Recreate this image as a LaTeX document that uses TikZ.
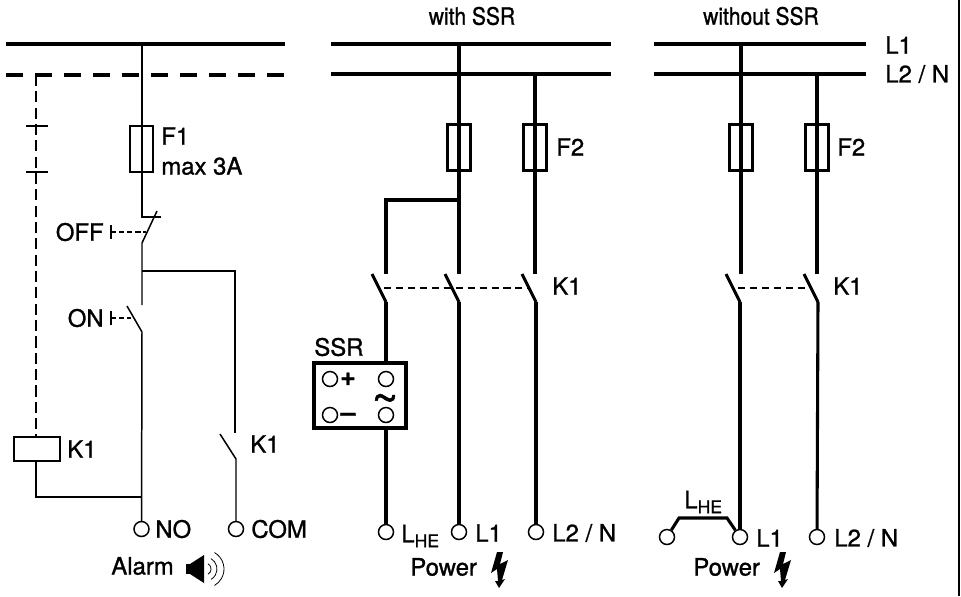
\documentclass[tikz,border=0pt]{standalone}
\usepackage{fontspec}
\setmainfont{TeX Gyre Heros}[FakeBold=1.1]
\newcommand{\lhe}{L\raisebox{-2.8pt}{\fontsize{10}{10}\selectfont HE}}

\begin{document}
\begin{tikzpicture}[x=0.02cm, y=-0.02cm, font=\fontsize{13.6}{15}\selectfont,
    busline/.style={line width=1.75pt},
    busdash/.style={line width=1.8pt, dash pattern=on 9.7pt off 6.8pt},
    wirethin/.style={line width=0.85pt},
    wirethick/.style={line width=1.75pt},
    linkdash/.style={line width=0.85pt, dash pattern=on 6.3pt off 3pt},
    ctrldash/.style={line width=0.8pt, dash pattern=on 4pt off 2.8pt},
    terminal/.style={circle, draw, line width=0.85pt, fill=white, inner sep=0pt, minimum size=0.3cm},
    fusebox/.style={rectangle, draw, inner sep=0pt, minimum width=0.46cm, minimum height=0.93cm},
    label/.style={anchor=west, inner sep=0pt}
]
    % Page size and the rule on the right
    \useasboundingbox (0,0) rectangle (961,596);
    \draw[line width=0.9pt] (959,0) -- (959,596);

    % Titles
    \node[xscale=0.88] (TitleWith) at (472,16) {with SSR};
    \node[xscale=0.88] (TitleWithout) at (761,16) {without SSR};

    % Supply lines
    \coordinate (AlarmTopLeft) at (6,44);
    \coordinate (AlarmTopRight) at (285,44);
    \coordinate (AlarmBotLeft) at (6,75);
    \coordinate (AlarmBotRight) at (285,75);
    \coordinate (WithTopLeft) at (331,44);
    \coordinate (WithTopRight) at (611,44);
    \coordinate (WithBotLeft) at (331,74);
    \coordinate (WithBotRight) at (611,74);
    \coordinate (NoTopLeft) at (654,44);
    \coordinate (NoTopRight) at (866,44);
    \coordinate (NoBotLeft) at (654,74);
    \coordinate (NoBotRight) at (866,74);
    \draw[line width=1.9pt] (AlarmTopLeft) -- (AlarmTopRight);
    \draw[busdash] (AlarmBotLeft) -- (AlarmBotRight);
    \draw[busline] (WithTopLeft) -- (WithTopRight);
    \draw[busline] (WithBotLeft) -- (WithBotRight);
    \draw[busline] (NoTopLeft) -- (NoTopRight);
    \draw[busline] (NoBotLeft) -- (NoBotRight);
    \node[label] (LabelL1) at (885,45) {L1};
    \node[label] (LabelL2) at (885,74) {L2 / N};

    % Alarm circuit
    \coordinate (AlarmFeed) at (142,44);
    \coordinate (OffStub) at (142,217);
    \coordinate (OffStubEnd) at (161,217);
    \coordinate (OffBladeTop) at (157,211);
    \coordinate (OffBladeEnd) at (142,243);
    \coordinate (ComBranch) at (142,271);
    \coordinate (ComCorner) at (235,271);
    \coordinate (ComOpen) at (235,433);
    \coordinate (OnOpen) at (142,305);
    \coordinate (OnBladeTop) at (127,306);
    \coordinate (OnBladeEnd) at (142,332);
    \coordinate (CoilJoin) at (142,497);
    \coordinate (CoilCorner) at (36,497);
    \coordinate (ComBladeTop) at (220,434);
    \coordinate (ComBladeEnd) at (236,459);
    \node[fusebox, line width=0.7pt, minimum height=0.92cm] (FuseF1) at (141.5,149) {};
    \node[label] (LabelF1) at (161,136) {F1};
    \node[label] (LabelMax) at (161,166) {max 3A};
    \node[terminal] (TermNO) at (141.5,529) {};
    \node[terminal] (TermCOM) at (236,529) {};
    \node[label] (LabelNO) at (155,529) {NO};
    \node[label] (LabelCOM) at (251,529) {COM};
    \node[label] (LabelAlarm) at (111,566) {Alarm};
    \draw[wirethin] (AlarmFeed) -- (OffStub) -- (OffStubEnd);
    \draw[wirethin] (OffBladeTop) -- (OffBladeEnd) -- (OnOpen);
    \draw[wirethin] (ComBranch) -- (ComCorner) -- (ComOpen);
    \draw[wirethin] (OnBladeTop) -- (OnBladeEnd) -- (TermNO);
    \draw[wirethin] (ComBladeTop) -- (ComBladeEnd) -- (TermCOM);

    % Push buttons
    \node[label, anchor=east] (LabelOff) at (104,232) {OFF};
    \node[label, anchor=east] (LabelOn) at (104,318) {ON};
    \foreach \y/\xend in {232/146, 318/131} {
        \draw[wirethin] (111,\y-7) -- (111,\y+7);
        \draw[line width=0.6pt, dash pattern=on 3pt off 1.6pt] (111,\y) -- (\xend,\y);
    }

    % Relay coil and its mechanical link
    \node[rectangle, draw, line width=0.7pt, inner sep=0pt, minimum width=0.92cm, minimum height=0.48cm] (CoilK1) at (37,449) {};
    \node[label] (LabelCoil) at (67,449) {K1};
    \node[label] (LabelK1Com) at (250,444) {K1};
    \coordinate (LinkTop) at (36,75);
    \draw[linkdash] (LinkTop) -- (CoilK1.north -| LinkTop);
    \draw[wirethin] (CoilK1.south -| CoilCorner) -- (CoilCorner) -- (CoilJoin);
    \foreach \y in {126, 172} {
        \draw[wirethin] (26,\y) -- (48,\y);
    }

    % Alarm speaker
    \fill (186,564) rectangle (190,574);
    \fill (190,564) -- (204,555) -- (204,583) -- (190,574) -- cycle;
    \foreach \r in {6, 12, 19} {
        \draw[line width=0.45pt] (205,569) ++(-60:\r) arc (-60:60:\r);
    }

    % Fuses and feeds of both power circuits
    \foreach \name/\xfeed/\ytop in {WithA/459/44, WithB/535/74, NoA/741/44, NoB/817/74} {
        \coordinate (\name Top) at (\xfeed,\ytop);
        \coordinate (\name Open) at (\xfeed,274);
        \node[fusebox, line width=1.75pt] (Fuse\name) at (\xfeed,147.5) {};
        \draw[wirethick] (\name Top) -- (\name Open);
    }
    \node[label] (LabelF2With) at (556,147) {F2};
    \node[label] (LabelF2No) at (837,147) {F2};

    % Branch towards the SSR
    \coordinate (SsrBranch) at (459,200);
    \coordinate (SsrCorner) at (386,200);
    \coordinate (SsrOpen) at (386,274);
    \draw[wirethick] (SsrBranch) -- (SsrCorner) -- (SsrOpen);

    % Contactor blades
    \foreach \name/\xblade in {BladeS/386, BladeA/459, BladeB/536, BladeC/740, BladeD/818} {
        \coordinate (\name Top) at (\xblade-14,274);
        \coordinate (\name End) at (\xblade,302);
        \draw[wirethick] (\name Top) -- (\name End);
    }
    \draw[ctrldash] (384,288) -- (528,288);
    \draw[ctrldash] (738,288) -- (806,288);
    \node[label] (LabelK1With) at (552,286) {K1};
    \node[label] (LabelK1No) at (833,286) {K1};

    % SSR
    \node[rectangle, draw, line width=1.9pt, inner sep=0pt, minimum width=1.84cm, minimum height=1.3cm] (SSR) at (360,395.5) {};
    \node[label] (LabelSSR) at (314,347) {SSR};
    \foreach \name/\px/\py in {SsrA/330/379, SsrB/386/379, SsrC/330/415, SsrD/386/415} {
        \node[terminal] (\name) at (\px,\py) {};
    }
    \node[font=\fontsize{15}{15}\selectfont\bfseries] (SsrPlus) at (348,379) {+};
    \node[font=\fontsize{15}{15}\selectfont\bfseries] (SsrMinus) at (348,417) {--};
    \node[font=\fontsize{26}{26}\selectfont] (SsrAc) at (385,404) {\textasciitilde};

    % Power terminals
    \node[terminal] (TermS) at (386,532) {};
    \node[terminal] (TermA) at (459,532) {};
    \node[terminal] (TermB) at (536,532) {};
    \node[terminal] (TermC) at (740,537) {};
    \node[terminal] (TermD) at (817,537) {};
    \node[terminal] (TermHE) at (667,537) {};
    \draw[wirethick] (BladeSEnd) -- (SSR.north -| BladeSEnd);
    \draw[wirethick] (SSR.south -| TermS) -- (TermS);
    \draw[wirethick] (BladeAEnd) -- (TermA);
    \draw[wirethick] (BladeBEnd) -- (TermB);
    \draw[wirethick] (BladeCEnd) -- (TermC);
    \draw[wirethick] (BladeDEnd) -- (TermD);
    \coordinate (JumpLeft) at (679,518);
    \coordinate (JumpRight) at (727,518);
    \draw[wirethick] (TermHE) -- (JumpLeft) -- (JumpRight) -- (TermC);

    % Terminal labels
    \node[label] (LabelHEa) at (401,536) {\lhe};
    \node[label] (LabelA) at (475,533) {L1};
    \node[label] (LabelB) at (552,533) {L2 / N};
    \node[label] (LabelHEb) at (684,502) {\lhe};
    \node[label] (LabelC) at (756,538) {L1};
    \node[label] (LabelD) at (834,538) {L2 / N};

    % Power labels and bolts
    \foreach \name/\xp in {With/410, No/693} {
        \node[label] (Power\name) at (\xp,567) {Power};
        \begin{scope}[shift={(\xp-410,0)}]
            \fill (497,552) -- (503,552) -- (500,564) -- (508,560) -- (502,580) -- (505,579)
                -- (499,588) -- (495,581) -- (498,581) -- (497,569) -- (491,573) -- cycle;
        \end{scope}
    }
\end{tikzpicture}
\end{document}
